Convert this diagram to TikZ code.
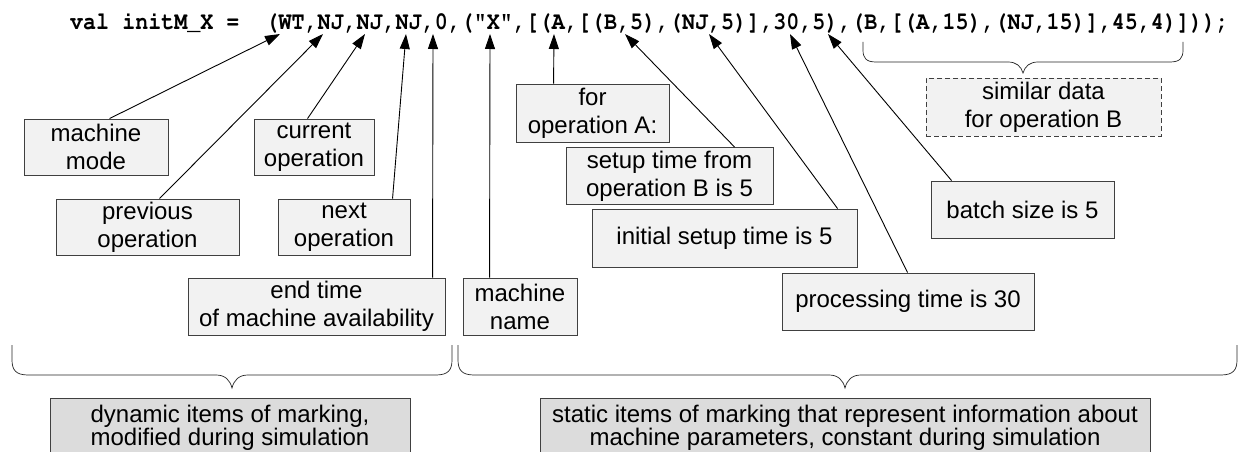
\documentclass[tikz,border=0pt]{standalone}
\usepackage{fontspec}
\setmainfont{Liberation Sans}
\usetikzlibrary{arrows.meta}
\definecolor{boxfill}{HTML}{F2F2F2}
\definecolor{darkfill}{HTML}{DCDCDC}
\definecolor{boxline}{HTML}{404040}
\newcommand{\courierbold}{\fontencoding{T1}\fontfamily{pcr}\fontseries{b}\selectfont}
\tikzset{
  bx/.style={draw=boxline, line width=0.9pt, fill=boxfill, align=center, inner sep=0pt,
    font=\fontsize{24}{28}\selectfont},
  dbx/.style={draw=boxline, line width=0.9pt, fill=darkfill, align=center, inner sep=0pt,
    font=\fontsize{24}{22}\selectfont},
  arr/.style={line width=0.9pt, -{Triangle[length=15pt,width=10pt]}},
  brace/.style={line width=0.7pt, draw=black!85},
}
\begin{document}
\begin{tikzpicture}[x=1pt,y=-1pt]
\clip (0,0) rectangle (1243,452);
\fill[white] (0,0) rectangle (1243,452);
% code line
\node[anchor=base west, inner sep=0pt] (code) at (70,30)
  {\scalebox{1}[1.15]{\fontsize{21.7}{26}\courierbold val initM\_X =\ \ (WT,NJ,NJ,NJ,0,("X",[(A,[(B,5),(NJ,5)],30,5),(B,[(A,15),(NJ,15)],45,4)]));}};
% arrow tips
\coordinate (t1) at (280,34);
\coordinate (t2) at (323,34);
\coordinate (t3) at (365,34);
\coordinate (t4) at (406,34);
\coordinate (t5) at (433,34);
\coordinate (t6) at (490,34);
\coordinate (t7) at (554,34);
\coordinate (t8) at (625,34);
\coordinate (t9) at (709,34);
\coordinate (t10) at (790,34);
\coordinate (t11) at (828,34);
% boxes
\node[bx, minimum width=144, minimum height=56] (mm) at (96,147) {machine\\mode};
\node[bx, minimum width=120, minimum height=56] (co) at (314,147) {current\\operation};
\node[bx, minimum width=183, minimum height=56] (po) at (147.5,227) {previous\\operation};
\node[bx, minimum width=132, minimum height=56] (no) at (344,227) {next\\operation};
\node[bx, minimum width=257, minimum height=57] (et) at (316.5,306.5) {end time\\of machine availability};
\node[bx, minimum width=114, minimum height=57] (mn) at (520,306.5) {machine\\name};
\node[bx, minimum width=153, minimum height=58] (fa) at (592.5,113) {for\\operation A:};
\node[bx, minimum width=207, minimum height=57] (sb) at (669.5,176) {setup time from\\operation B is 5};
\node[bx, minimum width=265, minimum height=58] (is) at (724.5,238) {initial setup time is 5};
\node[bx, minimum width=252, minimum height=57] (pt) at (908,301.5) {processing time is 30};
\node[bx, minimum width=183, minimum height=57] (bs) at (1022.5,209.5) {batch size is 5};
\node[bx, dash pattern=on 5pt off 3pt, minimum width=235, minimum height=58] (sd) at (1043.5,107) {similar data\\for operation B};
\node[dbx, minimum width=360, minimum height=60] (dy) at (230,428) {dynamic items of marking,\\modified during simulation};
\node[dbx, minimum width=610, minimum height=60] (st) at (845,428) {static items of marking that represent information about\\machine parameters, constant during simulation};
% arrows
\draw[arr] ([xshift=86pt]mm.north west) -- (t1);
\draw[arr] ([xshift=104pt]po.north west) -- (t2);
\draw[arr] ([xshift=54pt]co.north west) -- (t3);
\draw[arr] ([xshift=115pt]no.north west) -- (t4);
\draw[arr] ([xshift=245pt]et.north west) -- (t5);
\draw[arr] ([xshift=27pt]mn.north west) -- (t6);
\draw[arr] ([xshift=38pt]fa.north west) -- (t7);
\draw[arr] ([xshift=169pt]sb.north west) -- (t8);
\draw[arr] ([xshift=246pt]is.north west) -- (t9);
\draw[arr] ([xshift=126pt]pt.north west) -- (t10);
\draw[arr] ([xshift=21pt]bs.north west) -- (t11);
% braces
\draw[brace] (863,42) -- (863,50) .. controls (863,58) and (866,62) .. (876,62) -- (1008,62)
  .. controls (1016,62) and (1021,66) .. (1023,73)
  .. controls (1025,66) and (1030,62) .. (1038,62) -- (1170,62)
  .. controls (1180,62) and (1183,58) .. (1183,50) -- (1183,42);
\draw[brace] (12,345) -- (12,360) .. controls (12,370) and (16,375) .. (28,375) -- (216,375)
  .. controls (225,375) and (230,380) .. (232,388)
  .. controls (234,380) and (239,375) .. (248,375) -- (436,375)
  .. controls (448,375) and (452,370) .. (452,360) -- (452,345);
\draw[brace] (458,345) -- (458,360) .. controls (458,370) and (462,375) .. (474,375) -- (829,375)
  .. controls (838,375) and (843,380) .. (845,388)
  .. controls (847,380) and (852,375) .. (861,375) -- (1221,375)
  .. controls (1233,375) and (1237,370) .. (1237,360) -- (1237,345);
\end{tikzpicture}
\end{document}
